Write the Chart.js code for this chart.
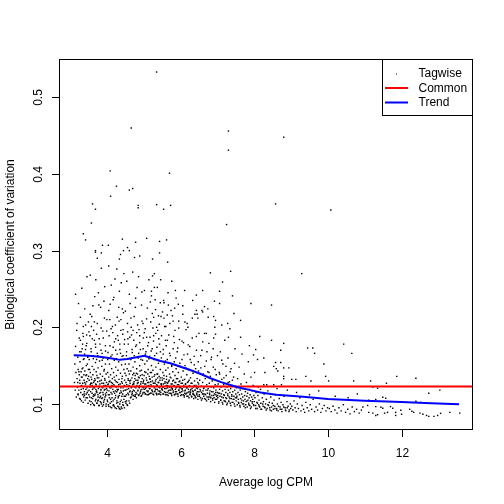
<!DOCTYPE html>
<html>
<head>
<meta charset="utf-8">
<script src="https://cdn.jsdelivr.net/npm/chart.js@4.4.1/dist/chart.umd.min.js"></script>
<style>
  html, body { margin: 0; padding: 0; background: #fff; }
  canvas { display: block; }
</style>
</head>
<body>
<canvas id="bcv" width="504" height="504"></canvas>
<script>
// axis limits and ticks (R style, 4% extension)
var xMin = 2.70, xMax = 13.94;
var yMin = 0.066, yMax = 0.55;
var xTicks = [4, 6, 8, 10, 12];
var yTicks = [0.1, 0.2, 0.3, 0.4, 0.5];

// common dispersion
var commonBCV = 0.1226;

// trend line
var trendCPM = [3.10, 3.50, 3.80, 4.10, 4.35, 4.55, 4.80, 5.02, 5.20, 5.45, 5.72, 6.00, 6.26, 6.55, 6.81, 7.10, 7.35, 7.60, 7.90, 8.17, 8.60, 9.33, 10.0, 11.0, 12.0, 12.8, 13.56];
var trendBCV = [0.1635, 0.1628, 0.1617, 0.1595, 0.1575, 0.1585, 0.1610, 0.1628, 0.1600, 0.1560, 0.1530, 0.1485, 0.1443, 0.1390, 0.1335, 0.1285, 0.1248, 0.1212, 0.1180, 0.1150, 0.1120, 0.1095, 0.1065, 0.1043, 0.1026, 0.1010, 0.0996];

// tagwise points [logCPM, BCV], low abundance
var tagLow = [
[3.12,0.128],[3.13,0.152],[3.14,0.118],[3.15,0.175],[3.16,0.141],[3.17,0.109],[3.18,0.196],[3.19,0.133],[3.20,0.122],[3.21,0.161],
[3.22,0.112],[3.22,0.145],[3.23,0.231],[3.24,0.118],[3.25,0.138],[3.25,0.186],[3.26,0.107],[3.27,0.127],[3.27,0.155],[3.28,0.213],
[3.29,0.115],[3.30,0.142],[3.30,0.168],[3.31,0.104],[3.32,0.124],[3.32,0.251],[3.33,0.135],[3.34,0.112],[3.34,0.178],[3.35,0.147],
[3.36,0.120],[3.36,0.201],[3.37,0.109],[3.38,0.131],[3.38,0.159],[3.39,0.116],[3.40,0.143],[3.40,0.224],[3.41,0.105],[3.42,0.126],
[3.42,0.171],[3.43,0.137],[3.44,0.113],[3.44,0.150],[3.45,0.190],[3.46,0.121],[3.46,0.266],[3.47,0.108],[3.48,0.133],[3.48,0.162],
[3.49,0.117],[3.50,0.145],[3.50,0.207],[3.15,0.243],[3.28,0.183],[3.35,0.192],[3.45,0.138],[3.21,0.128],[3.38,0.113],[3.33,0.146],
[3.26,0.168],[3.43,0.119],[3.19,0.205],[3.47,0.152],[3.31,0.135],[3.40,0.128],[3.24,0.142],[3.36,0.158],[3.44,0.176],[3.29,0.123],
[3.51,0.112],[3.52,0.131],[3.52,0.158],[3.53,0.104],[3.54,0.122],[3.54,0.189],[3.55,0.141],[3.56,0.099],[3.56,0.116],[3.57,0.135],
[3.57,0.172],[3.58,0.108],[3.59,0.127],[3.59,0.214],[3.60,0.149],[3.61,0.101],[3.61,0.119],[3.62,0.138],[3.62,0.163],[3.63,0.110],
[3.64,0.128],[3.64,0.196],[3.65,0.145],[3.66,0.098],[3.66,0.121],[3.67,0.133],[3.67,0.240],[3.68,0.113],[3.69,0.154],[3.69,0.178],
[3.70,0.106],[3.71,0.125],[3.71,0.142],[3.72,0.117],[3.73,0.101],[3.73,0.137],[3.74,0.166],[3.74,0.205],[3.75,0.129],[3.76,0.109],
[3.76,0.147],[3.77,0.120],[3.78,0.098],[3.78,0.134],[3.79,0.185],[3.80,0.114],[3.80,0.156],[3.81,0.126],[3.82,0.103],[3.82,0.139],
[3.83,0.226],[3.84,0.118],[3.84,0.170],[3.85,0.131],[3.86,0.107],[3.86,0.149],[3.87,0.122],[3.88,0.097],[3.88,0.136],[3.89,0.195],
[3.90,0.112],[3.90,0.160],[3.91,0.127],[3.92,0.104],[3.92,0.143],[3.93,0.118],[3.94,0.253],[3.94,0.133],[3.95,0.109],[3.96,0.152],
[3.96,0.176],[3.97,0.124],[3.98,0.100],[3.98,0.139],[3.99,0.115],[4.00,0.210],[3.55,0.268],[3.62,0.228],[3.70,0.262],[3.77,0.245],
[3.85,0.277],[3.92,0.234],[3.58,0.201],[3.66,0.183],[3.73,0.115],[3.81,0.108],[3.89,0.121],[3.97,0.111],[3.53,0.145],[3.60,0.124],
[3.68,0.131],[3.75,0.104],[3.83,0.115],[3.91,0.102],[3.99,0.128],[3.64,0.112],[3.72,0.158],[3.79,0.122],[3.87,0.166],[3.95,0.119],
[3.56,0.127],[3.84,0.102],[3.70,0.119],[3.93,0.145],
[4.01,0.118],[4.02,0.103],[4.02,0.141],[4.03,0.167],[4.04,0.126],[4.05,0.097],[4.05,0.135],[4.06,0.189],[4.07,0.112],[4.07,0.152],
[4.08,0.121],[4.09,0.101],[4.09,0.230],[4.10,0.138],[4.11,0.115],[4.11,0.162],[4.12,0.128],[4.13,0.095],[4.13,0.146],[4.14,0.108],
[4.15,0.201],[4.15,0.133],[4.16,0.119],[4.17,0.174],[4.17,0.104],[4.18,0.141],[4.19,0.125],[4.20,0.097],[4.20,0.157],[4.21,0.114],
[4.22,0.263],[4.22,0.131],[4.23,0.108],[4.24,0.148],[4.24,0.185],[4.25,0.122],[4.26,0.094],[4.26,0.137],[4.27,0.116],[4.28,0.165],
[4.28,0.213],[4.29,0.128],[4.30,0.102],[4.30,0.144],[4.31,0.119],[4.32,0.096],[4.32,0.155],[4.33,0.132],[4.34,0.247],[4.34,0.111],
[4.35,0.178],[4.36,0.126],[4.36,0.093],[4.37,0.140],[4.38,0.117],[4.38,0.196],[4.39,0.105],[4.40,0.151],[4.40,0.129],[4.41,0.094],
[4.42,0.136],[4.42,0.224],[4.43,0.113],[4.44,0.163],[4.44,0.121],[4.45,0.098],[4.46,0.145],[4.46,0.270],[4.47,0.110],[4.48,0.131],
[4.48,0.184],[4.49,0.118],[4.50,0.103],[4.50,0.152],[4.05,0.280],[4.12,0.255],[4.19,0.239],[4.27,0.276],[4.33,0.208],[4.39,0.258],
[4.45,0.219],[4.08,0.210],[4.16,0.193],[4.24,0.170],[4.31,0.183],[4.37,0.166],[4.43,0.191],[4.04,0.112],[4.10,0.106],[4.14,0.124],
[4.18,0.099],[4.23,0.117],[4.27,0.104],[4.31,0.110],[4.35,0.100],[4.39,0.115],[4.43,0.102],[4.47,0.124],[4.06,0.129],[4.20,0.135],
[4.29,0.118],[4.41,0.133],[4.49,0.140]
];

// tagwise points, mid abundance
var tagMid = [
[4.51,0.118],[4.52,0.101],[4.52,0.137],[4.53,0.163],[4.54,0.125],[4.55,0.099],[4.55,0.146],[4.56,0.205],[4.57,0.114],[4.58,0.131],
[4.58,0.178],[4.59,0.120],[4.60,0.104],[4.60,0.152],[4.61,0.139],[4.62,0.116],[4.63,0.231],[4.63,0.127],[4.64,0.108],[4.65,0.158],
[4.65,0.143],[4.66,0.121],[4.67,0.190],[4.68,0.112],[4.68,0.134],[4.69,0.167],[4.70,0.125],[4.71,0.106],[4.71,0.148],[4.72,0.118],
[4.73,0.140],[4.74,0.214],[4.74,0.129],[4.75,0.110],[4.76,0.155],[4.76,0.122],[4.77,0.137],[4.78,0.175],[4.79,0.115],[4.79,0.131],
[4.80,0.108],[4.81,0.146],[4.82,0.124],[4.82,0.252],[4.83,0.139],[4.84,0.117],[4.85,0.160],[4.85,0.128],[4.86,0.111],[4.87,0.197],
[4.88,0.134],[4.88,0.121],[4.89,0.150],[4.90,0.114],[4.91,0.137],[4.91,0.171],[4.92,0.126],[4.93,0.110],[4.94,0.144],[4.94,0.229],
[4.95,0.119],[4.96,0.133],[4.97,0.157],[4.97,0.113],[4.98,0.127],[4.99,0.186],[5.00,0.121],[4.54,0.260],[4.61,0.243],[4.70,0.272],
[4.78,0.238],[4.86,0.266],[4.95,0.246],[4.57,0.185],[4.66,0.200],[4.73,0.183],[4.81,0.193],[4.89,0.180],[4.98,0.205],[4.53,0.112],
[4.62,0.130],[4.69,0.116],[4.77,0.112],[4.84,0.131],[4.92,0.118],[4.99,0.129],[4.59,0.143],[4.72,0.127],[4.87,0.122],
[5.01,0.137],[5.02,0.115],[5.03,0.152],[5.03,0.126],[5.04,0.198],[5.05,0.113],[5.06,0.141],[5.06,0.168],[5.07,0.122],[5.08,0.131],
[5.09,0.112],[5.09,0.156],[5.10,0.225],[5.11,0.128],[5.12,0.117],[5.12,0.145],[5.13,0.180],[5.14,0.124],[5.15,0.136],[5.15,0.113],
[5.16,0.162],[5.17,0.120],[5.18,0.141],[5.19,0.207],[5.19,0.129],[5.20,0.114],[5.21,0.150],[5.22,0.123],[5.23,0.172],[5.23,0.135],
[5.24,0.116],[5.25,0.144],[5.26,0.127],[5.27,0.189],[5.27,0.112],[5.28,0.158],[5.29,0.121],[5.30,0.138],[5.31,0.117],[5.31,0.236],
[5.32,0.130],[5.33,0.148],[5.34,0.114],[5.35,0.125],[5.35,0.166],[5.36,0.139],[5.37,0.119],[5.38,0.196],[5.39,0.128],[5.39,0.113],
[5.40,0.153],[5.41,0.122],[5.42,0.136],[5.43,0.178],[5.44,0.117],[5.44,0.131],[5.45,0.145],[5.46,0.112],[5.47,0.214],[5.47,0.126],
[5.48,0.160],[5.49,0.120],[5.50,0.134],[5.02,0.248],[5.14,0.262],[5.21,0.241],[5.29,0.270],[5.37,0.252],[5.45,0.232],[5.08,0.187],
[5.25,0.199],[5.41,0.185],[5.05,0.120],[5.11,0.116],[5.17,0.132],[5.22,0.118],[5.28,0.127],[5.33,0.119],[5.38,0.134],[5.43,0.116],
[5.48,0.124],
[5.51,0.118],[5.52,0.141],[5.53,0.126],[5.53,0.165],[5.54,0.113],[5.55,0.133],[5.56,0.152],[5.57,0.120],[5.57,0.201],[5.58,0.129],
[5.59,0.115],[5.60,0.144],[5.61,0.124],[5.61,0.176],[5.62,0.136],[5.63,0.112],[5.64,0.158],[5.65,0.127],[5.65,0.121],[5.66,0.147],
[5.67,0.117],[5.68,0.190],[5.69,0.131],[5.69,0.114],[5.70,0.139],[5.71,0.123],[5.72,0.163],[5.73,0.118],[5.74,0.134],[5.74,0.222],
[5.75,0.113],[5.76,0.150],[5.77,0.126],[5.78,0.120],[5.79,0.142],[5.80,0.172],[5.80,0.115],[5.81,0.131],[5.82,0.124],[5.83,0.155],
[5.84,0.112],[5.85,0.137],[5.85,0.196],[5.86,0.119],[5.87,0.128],[5.88,0.146],[5.89,0.116],[5.90,0.122],[5.91,0.168],[5.92,0.133],
[5.93,0.113],[5.94,0.141],[5.95,0.125],[5.96,0.118],[5.97,0.184],[5.98,0.130],[5.99,0.115],[6.00,0.149],[5.55,0.232],[5.66,0.245],
[5.78,0.215],[5.88,0.238],[5.59,0.183],[5.71,0.205],[5.83,0.180],[5.95,0.208],[5.52,0.122],[5.63,0.128],[5.75,0.121],[5.86,0.113],
[5.97,0.121],
[6.01,0.121],[6.02,0.135],[6.03,0.112],[6.04,0.158],[6.05,0.127],[6.06,0.117],[6.07,0.143],[6.08,0.180],[6.09,0.122],[6.10,0.111],
[6.11,0.132],[6.12,0.150],[6.13,0.118],[6.14,0.126],[6.15,0.197],[6.16,0.114],[6.17,0.138],[6.18,0.121],[6.19,0.165],[6.20,0.110],
[6.21,0.129],[6.22,0.145],[6.23,0.116],[6.24,0.124],[6.25,0.175],[6.26,0.113],[6.27,0.134],[6.28,0.119],[6.29,0.154],[6.30,0.110],
[6.31,0.127],[6.32,0.212],[6.33,0.117],[6.34,0.140],[6.35,0.122],[6.36,0.112],[6.37,0.162],[6.38,0.130],[6.39,0.118],[6.40,0.109],
[6.41,0.146],[6.42,0.124],[6.43,0.188],[6.44,0.114],[6.45,0.133],[6.46,0.120],[6.47,0.110],[6.48,0.155],[6.49,0.126],[6.50,0.116],
[6.06,0.228],[6.18,0.205],[6.33,0.235],[6.45,0.217],[6.11,0.114],[6.23,0.131],[6.35,0.113],[6.47,0.128],[6.04,0.119],[6.27,0.115],
[6.51,0.112],[6.52,0.131],[6.53,0.119],[6.54,0.108],[6.55,0.147],[6.56,0.123],[6.57,0.115],[6.58,0.170],[6.59,0.107],[6.60,0.128],
[6.61,0.117],[6.62,0.139],[6.63,0.110],[6.64,0.121],[6.65,0.192],[6.66,0.113],[6.67,0.133],[6.68,0.106],[6.69,0.118],[6.70,0.156],
[6.71,0.125],[6.72,0.109],[6.73,0.114],[6.74,0.142],[6.75,0.120],[6.76,0.106],[6.77,0.179],[6.78,0.127],[6.79,0.112],[6.80,0.117],
[6.81,0.136],[6.82,0.108],[6.83,0.122],[6.84,0.161],[6.85,0.111],[6.86,0.130],[6.87,0.105],[6.88,0.116],[6.89,0.148],[6.90,0.121],
[6.91,0.108],[6.92,0.113],[6.93,0.200],[6.94,0.125],[6.95,0.106],[6.96,0.118],[6.97,0.138],[6.98,0.110],[6.99,0.123],[7.00,0.115],
[6.58,0.222],[6.75,0.213],[6.90,0.186],[6.62,0.113],[6.80,0.109],[6.96,0.112],
[7.01,0.108],[7.02,0.126],[7.03,0.114],[7.04,0.103],[7.05,0.141],[7.06,0.119],[7.07,0.110],[7.08,0.168],[7.09,0.105],[7.10,0.122],
[7.11,0.113],[7.12,0.132],[7.13,0.102],[7.14,0.117],[7.15,0.152],[7.16,0.108],[7.17,0.125],[7.18,0.104],[7.19,0.111],[7.20,0.183],
[7.21,0.119],[7.22,0.103],[7.23,0.115],[7.24,0.137],[7.25,0.107],[7.26,0.122],[7.27,0.101],[7.28,0.113],[7.29,0.160],[7.30,0.118],
[7.31,0.104],[7.32,0.109],[7.33,0.129],[7.34,0.115],[7.35,0.101],[7.36,0.120],[7.37,0.146],[7.38,0.107],[7.39,0.112],[7.40,0.102],
[7.41,0.124],[7.42,0.116],[7.43,0.106],[7.44,0.135],[7.45,0.110],[7.46,0.100],[7.47,0.118],[7.48,0.172],[7.49,0.108],[7.50,0.113],
[7.12,0.203],[7.34,0.198],[7.45,0.218]
];

// tagwise points, high abundance
var tagHigh = [
[7.51,0.104],[7.52,0.121],[7.53,0.110],[7.54,0.099],[7.55,0.133],[7.56,0.115],[7.57,0.106],[7.58,0.101],[7.59,0.148],[7.60,0.112],
[7.61,0.098],[7.62,0.118],[7.63,0.107],[7.64,0.126],[7.65,0.102],[7.66,0.113],[7.67,0.165],[7.68,0.100],[7.69,0.109],[7.70,0.120],
[7.71,0.104],[7.72,0.097],[7.73,0.139],[7.74,0.111],[7.75,0.106],[7.76,0.116],[7.77,0.099],[7.78,0.103],[7.79,0.128],[7.80,0.110],
[7.81,0.096],[7.82,0.114],[7.83,0.105],[7.84,0.155],[7.85,0.101],[7.86,0.108],[7.87,0.119],[7.88,0.098],[7.89,0.112],[7.90,0.104],
[7.91,0.135],[7.92,0.096],[7.93,0.109],[7.94,0.117],[7.95,0.101],[7.96,0.106],[7.97,0.124],[7.98,0.099],[7.99,0.111],[8.00,0.103],
[7.63,0.187],[7.87,0.176],
[8.02,0.108],[8.04,0.098],[8.05,0.115],[8.07,0.102],[8.08,0.094],[8.10,0.111],[8.12,0.099],[8.13,0.105],[8.15,0.096],[8.17,0.119],
[8.18,0.101],[8.20,0.093],[8.22,0.108],[8.24,0.097],[8.25,0.103],[8.27,0.113],[8.29,0.095],[8.31,0.100],[8.33,0.106],[8.35,0.094],
[8.37,0.117],[8.39,0.098],[8.41,0.102],[8.43,0.092],[8.45,0.109],[8.47,0.096],[8.49,0.101],[8.52,0.093],[8.54,0.105],[8.56,0.097],
[8.58,0.112],[8.61,0.094],[8.63,0.100],[8.65,0.091],[8.68,0.107],[8.70,0.096],[8.73,0.102],[8.75,0.093],[8.78,0.099],[8.81,0.110],
[8.84,0.095],[8.86,0.091],[8.89,0.103],[8.92,0.097],[8.95,0.092],[8.98,0.100],[8.11,0.122],[8.34,0.125],[8.62,0.120],[8.90,0.118],
[8.15,0.188],[8.47,0.183],[8.80,0.179],[8.04,0.171],[8.72,0.170],[7.98,0.164],[8.09,0.158],[8.26,0.160],[8.58,0.154],[8.72,0.154],
[8.53,0.149],[8.60,0.146],[8.64,0.143],[8.80,0.147],[8.80,0.136],[8.80,0.133],[8.94,0.147],[8.01,0.141],[8.29,0.141],[8.26,0.125],
[8.53,0.125],[8.74,0.125],
[9.02,0.097],[9.05,0.092],[9.08,0.104],[9.11,0.095],[9.14,0.090],[9.17,0.100],[9.20,0.094],[9.24,0.108],[9.27,0.091],[9.30,0.098],
[9.34,0.093],[9.37,0.089],[9.40,0.102],[9.44,0.095],[9.48,0.091],[9.52,0.099],[9.56,0.093],[9.60,0.106],[9.64,0.090],[9.68,0.096],
[9.72,0.092],[9.77,0.100],[9.81,0.089],[9.85,0.094],[9.90,0.098],[9.95,0.091],[9.99,0.095],[9.15,0.115],[9.50,0.112],[9.75,0.117],
[9.45,0.173],[9.59,0.173],[9.64,0.166],[9.89,0.152],[9.02,0.132],[9.13,0.132],[9.40,0.136],[9.54,0.130],[9.94,0.136],
[10.04,0.094],[10.09,0.090],[10.14,0.097],[10.19,0.092],[10.25,0.088],[10.30,0.095],[10.36,0.091],[10.42,0.099],[10.48,0.089],[10.54,0.093],
[10.60,0.087],[10.66,0.096],[10.72,0.090],[10.78,0.093],[10.85,0.088],[10.91,0.092],[10.20,0.110],[10.55,0.108],[10.80,0.113],
[10.02,0.130],[10.43,0.178],[10.65,0.166],[10.70,0.130],[10.95,0.096],
[11.08,0.098],[11.11,0.089],[11.11,0.105],[11.16,0.130],[11.22,0.088],[11.22,0.122],[11.30,0.0965],[11.30,0.085],[11.30,0.106],[11.35,0.086],
[11.35,0.1205],[11.44,0.0957],[11.49,0.0944],[11.49,0.1087],[11.54,0.088],[11.57,0.1074],[11.59,0.127],[11.62,0.089],[11.70,0.0965],[11.76,0.0944],
[11.84,0.089],[11.84,0.085],[11.87,0.136],[11.98,0.0918],
[12.00,0.0866],[12.22,0.093],[12.28,0.0905],[12.33,0.089],[12.39,0.1335],[12.39,0.1035],[12.50,0.088],[12.52,0.102],[12.58,0.0866],[12.68,0.085],
[12.74,0.0838],[12.74,0.114],[12.88,0.0838],[12.98,0.085],[13.04,0.118],[13.06,0.0877],[13.31,0.089],[13.58,0.088]
];

// scattered high-BCV tags
var tagUpper = [
[5.35,0.533],[4.66,0.460],[7.30,0.456],[7.30,0.431],[4.09,0.404],[5.70,0.401],[4.26,0.384],[4.61,0.379],[4.70,0.381],[4.10,0.371],
[3.61,0.361],[3.69,0.354],[4.85,0.359],[4.85,0.356],[5.35,0.360],[5.54,0.354],[5.73,0.359],[7.25,0.334],[3.58,0.336],[3.36,0.322],
[3.42,0.314],[4.42,0.315],[5.08,0.316],[4.78,0.311],[5.43,0.312],[5.62,0.314],[3.88,0.307],[4.04,0.307],[3.69,0.300],[3.69,0.298],
[3.85,0.297],[4.45,0.300],[4.56,0.304],[4.61,0.300],[4.37,0.295],[5.43,0.297],[3.74,0.290],[4.34,0.289],[4.75,0.291],[4.89,0.293],
[5.24,0.289],[8.80,0.448],[8.58,0.361],[10.08,0.353],[9.29,0.270],[7.91,0.231],[8.47,0.229],
[5.65,0.285],[6.81,0.271],[7.36,0.273],[5.24,0.267],[5.46,0.262],[5.76,0.260],[7.14,0.259],[5.29,0.252],[5.21,0.247],[5.86,0.248],
[6.11,0.248],[6.60,0.248],[7.06,0.247],[6.43,0.242],[7.41,0.241],[5.54,0.235],[6.92,0.234],[7.06,0.231],[5.18,0.233],[5.67,0.229],
[5.94,0.230],[6.65,0.227],[6.74,0.224],[5.84,0.225],[5.32,0.223],[6.43,0.222],[5.51,0.220],[6.60,0.220],[6.06,0.217],[6.39,0.217],
[5.27,0.213],[5.40,0.215],[5.55,0.212],[5.64,0.216],[6.90,0.214],[6.47,0.212],[6.95,0.209],[7.63,0.209],[5.80,0.208],[6.12,0.207],
[7.28,0.205],[5.35,0.200],[5.60,0.201],[5.95,0.199],[6.20,0.200],[6.50,0.192],[6.70,0.192],[6.95,0.191],[7.30,0.187]
];

// extra tags in the dense lower band
var tagDense = [
[3.217,0.113],[3.263,0.131],[3.281,0.106],[3.302,0.119],[3.344,0.127],[3.358,0.102],[3.376,0.138],[3.391,0.111],[3.413,0.123],[3.437,0.108],
[3.452,0.129],[3.468,0.115],[3.489,0.101],[3.503,0.136],[3.518,0.118],[3.533,0.109],[3.547,0.125],[3.571,0.103],[3.586,0.132],[3.598,0.114],
[3.614,0.107],[3.627,0.121],[3.642,0.099],[3.655,0.130],[3.671,0.111],[3.688,0.104],[3.696,0.126],[3.713,0.116],[3.728,0.101],[3.741,0.134],
[3.757,0.112],[3.769,0.105],[3.786,0.123],[3.793,0.098],[3.808,0.130],[3.826,0.110],[3.838,0.119],[3.851,0.100],[3.867,0.127],[3.879,0.108],
[3.893,0.115],[3.907,0.099],[3.921,0.124],[3.936,0.106],[3.948,0.131],[3.962,0.113],[3.977,0.097],[3.989,0.120],
[4.012,0.105],[4.027,0.125],[4.041,0.099],[4.055,0.117],[4.068,0.108],[4.083,0.130],[4.097,0.096],[4.112,0.121],[4.126,0.103],[4.139,0.113],
[4.153,0.127],[4.168,0.098],[4.181,0.116],[4.196,0.106],[4.209,0.123],[4.224,0.095],[4.237,0.111],[4.252,0.129],[4.266,0.101],[4.279,0.119],
[4.293,0.097],[4.307,0.108],[4.321,0.125],[4.336,0.094],[4.349,0.114],[4.364,0.103],[4.378,0.121],[4.391,0.096],[4.406,0.110],[4.419,0.127],
[4.433,0.099],[4.447,0.117],[4.462,0.106],[4.476,0.095],[4.489,0.123],[4.503,0.110],[4.518,0.128],[4.533,0.104],[4.547,0.119],[4.561,0.098],
[4.576,0.133],[4.589,0.112],[4.603,0.124],[4.617,0.101],[4.632,0.117],
[4.646,0.131],[4.659,0.109],[4.674,0.122],[4.688,0.114],[4.703,0.138],[4.716,0.111],[4.731,0.126],[4.745,0.117],[4.759,0.133],[4.772,0.110],
[4.787,0.121],[4.801,0.140],[4.815,0.113],[4.829,0.127],[4.844,0.118],[4.857,0.135],[4.872,0.112],[4.886,0.124],[4.899,0.143],[4.914,0.116],
[4.928,0.129],[4.941,0.111],[4.956,0.138],[4.970,0.122],[4.984,0.115],[4.998,0.131],[5.013,0.119],[5.027,0.142],[5.041,0.113],[5.056,0.126],
[5.069,0.134],[5.084,0.117],[5.097,0.123],[5.112,0.139],[5.126,0.112],[5.139,0.128],[5.154,0.120],[5.168,0.133],[5.181,0.114],[5.196,0.125],
[5.211,0.141],[5.224,0.118],[5.238,0.130],[5.252,0.113],[5.266,0.123],[5.281,0.136],[5.294,0.116],[5.309,0.127],[5.323,0.119],[5.337,0.132],
[5.351,0.112],[5.366,0.124],[5.379,0.139],[5.393,0.117],[5.408,0.128],[5.421,0.113],[5.436,0.121],[5.449,0.134],[5.464,0.115],[5.478,0.126],
[5.492,0.119],
[5.506,0.131],[5.521,0.113],[5.535,0.122],[5.549,0.137],[5.563,0.116],[5.577,0.127],[5.592,0.112],[5.606,0.120],[5.619,0.132],[5.634,0.115],
[5.648,0.124],[5.663,0.111],[5.677,0.129],[5.691,0.118],[5.704,0.122],[5.719,0.135],[5.733,0.114],[5.747,0.126],[5.762,0.111],[5.776,0.119],
[5.789,0.130],[5.804,0.117],[5.818,0.123],[5.833,0.112],[5.847,0.128],[5.861,0.116],[5.875,0.121],[5.889,0.133],[5.904,0.113],[5.917,0.125],
[5.932,0.110],[5.946,0.118],[5.961,0.129],[5.974,0.115],[5.988,0.122],[6.003,0.111],[6.017,0.127],[6.031,0.116],[6.046,0.120],[6.059,0.131],
[6.074,0.112],[6.088,0.124],[6.102,0.109],[6.116,0.117],[6.131,0.126],[6.144,0.113],[6.159,0.121],[6.173,0.110],[6.187,0.128],[6.201,0.115],
[6.216,0.119],[6.229,0.108],[6.244,0.123],[6.258,0.112],[6.272,0.117],[6.286,0.127],[6.301,0.109],[6.314,0.120],[6.329,0.113],[6.343,0.116],
[6.357,0.107],[6.371,0.124],[6.386,0.111],[6.399,0.118],[6.414,0.108],[6.428,0.121],[6.443,0.112],[6.457,0.116],[6.471,0.106],[6.485,0.122],
[6.514,0.110],[6.541,0.117],[6.569,0.105],[6.596,0.113],[6.624,0.120],[6.651,0.107],[6.679,0.112],[6.706,0.104],[6.734,0.118],[6.761,0.109],
[6.789,0.114],[6.816,0.103],[6.844,0.116],[6.871,0.107],[6.899,0.111],[6.926,0.102],[6.954,0.115],[6.981,0.106],[7.009,0.111],[7.036,0.101],
[7.064,0.114],[7.091,0.105],[7.119,0.109],[7.146,0.100],[7.174,0.112],[7.201,0.104],[7.229,0.108],[7.256,0.099],[7.284,0.111],[7.311,0.103],
[7.339,0.107],[7.366,0.098],[7.394,0.110],[7.421,0.102],[7.449,0.106],[7.476,0.097],
[7.523,0.108],[7.571,0.102],[7.618,0.096],[7.664,0.105],[7.712,0.100],[7.758,0.095],[7.806,0.104],[7.853,0.099],[7.899,0.094],[7.947,0.103],
[7.993,0.098],[8.041,0.094],[8.088,0.101],[8.136,0.097],[8.183,0.093],[8.231,0.100],[8.278,0.096],[8.326,0.092],[8.373,0.099],[8.421,0.095],
[8.468,0.091],[8.516,0.098],[8.563,0.094],[8.611,0.092],[8.658,0.097],[8.706,0.093],[8.753,0.090],[8.801,0.096],[8.848,0.092],[8.896,0.095],
[8.943,0.090],[8.991,0.094]
];

// extra tags in the medium-density upper cloud
var tagSpread = [
[3.331,0.172],[3.362,0.188],[3.395,0.165],[3.423,0.203],[3.454,0.179],[3.481,0.161],[3.512,0.194],[3.546,0.217],[3.573,0.168],[3.604,0.185],
[3.632,0.159],[3.661,0.207],[3.694,0.174],[3.722,0.191],[3.751,0.163],[3.783,0.229],[3.812,0.178],[3.844,0.199],[3.873,0.157],[3.902,0.186],
[3.934,0.212],[3.963,0.169],[3.994,0.195],[4.023,0.158],[4.051,0.222],[4.084,0.176],[4.113,0.198],[4.142,0.164],[4.171,0.236],[4.203,0.181],
[4.232,0.203],[4.262,0.159],[4.291,0.189],[4.323,0.226],[4.352,0.171],[4.381,0.210],[4.412,0.162],[4.441,0.197],[4.473,0.178],[4.502,0.221],
[4.534,0.168],[4.563,0.194],[4.594,0.159],[4.622,0.187],[4.651,0.212],[4.683,0.171],[4.712,0.196],[4.744,0.163],[4.773,0.226],[4.802,0.177],
[4.834,0.203],[4.863,0.166],[4.892,0.189],[4.924,0.158],[4.953,0.208],[4.984,0.172],[5.016,0.193],[5.047,0.165],[5.078,0.211],[5.109,0.176],
[5.141,0.159],[5.172,0.187],[5.203,0.169],[5.234,0.218],[5.266,0.182],[5.297,0.163],[5.328,0.192],[5.359,0.174],[5.391,0.157],[5.422,0.204],
[5.453,0.168],[5.484,0.189],
[5.531,0.171],[5.589,0.156],[5.643,0.183],[5.702,0.166],[5.758,0.149],[5.813,0.188],[5.869,0.160],[5.924,0.173],[5.981,0.153],[6.038,0.182],
[6.092,0.164],[6.148,0.147],[6.207,0.177],[6.262,0.158],[6.318,0.186],[6.374,0.151],[6.431,0.170],[6.488,0.143],[6.545,0.163],[6.602,0.181],
[6.658,0.149],[6.716,0.168],[6.772,0.141],[6.829,0.158],[6.886,0.172],[6.941,0.145],[7.003,0.163],[7.061,0.139],[7.118,0.157],[7.176,0.134],
[7.233,0.149],[7.291,0.128],[7.349,0.142],[7.407,0.131],[7.466,0.153]
];

var tagwise = tagLow.concat(tagMid, tagHigh, tagUpper, tagDense, tagSpread);

var FONT = '"Liberation Sans", Arial, Helvetica, sans-serif';

// R-like frame, axes, labels and legend
var rFrame = {
    id: 'rFrame',
    afterDraw: function(chart) {
        var ctx = chart.ctx;
        var a = chart.chartArea;
        var sx = chart.scales.x, sy = chart.scales.y;
        ctx.save();
        ctx.strokeStyle = '#000';
        ctx.lineWidth = 1;
        ctx.strokeRect(a.left + 0.5, a.top + 0.5, a.right - a.left - 1, a.bottom - a.top - 1);

        ctx.fillStyle = '#000';
        ctx.font = '12px ' + FONT;
        // x ticks
        ctx.textAlign = 'center';
        ctx.textBaseline = 'alphabetic';
        xTicks.forEach(function(v) {
            var px = Math.round(sx.getPixelForValue(v)) + 0.5;
            ctx.beginPath();
            ctx.moveTo(px, a.bottom);
            ctx.lineTo(px, a.bottom + 7);
            ctx.stroke();
            ctx.fillText(String(v), px, 457);
        });
        // y ticks, rotated labels
        yTicks.forEach(function(v) {
            var py = Math.round(sy.getPixelForValue(v)) + 0.5;
            ctx.beginPath();
            ctx.moveTo(a.left, py);
            ctx.lineTo(a.left - 7, py);
            ctx.stroke();
            ctx.save();
            ctx.translate(42, py);
            ctx.rotate(-Math.PI / 2);
            ctx.fillText(v.toFixed(1), 0, 0);
            ctx.restore();
        });
        // axis titles
        ctx.fillText('Average log CPM', (a.left + a.right) / 2, 486);
        ctx.save();
        ctx.translate(13.5, (a.top + a.bottom) / 2);
        ctx.rotate(-Math.PI / 2);
        ctx.fillText('Biological coefficient of variation', 0, 0);
        ctx.restore();

        // legend box
        var lx = 382, ly = a.top, lw = a.right - 382, lh = 57;
        ctx.fillStyle = '#fff';
        ctx.fillRect(lx, ly, lw, lh);
        ctx.strokeStyle = '#000';
        ctx.strokeRect(lx + 0.5, ly + 0.5, lw - 1, lh - 1);
        ctx.fillStyle = '#000';
        ctx.fillRect(396, 73.5, 1, 1);
        ctx.lineWidth = 2;
        ctx.strokeStyle = '#ff0000';
        ctx.beginPath(); ctx.moveTo(385, 88); ctx.lineTo(408, 88); ctx.stroke();
        ctx.strokeStyle = '#0000ff';
        ctx.beginPath(); ctx.moveTo(385, 102.5); ctx.lineTo(408, 102.5); ctx.stroke();
        ctx.textAlign = 'left';
        ctx.textBaseline = 'middle';
        ctx.fillText('Tagwise', 418.5, 74);
        ctx.fillText('Common', 418.5, 88.3);
        ctx.fillText('Trend', 418.5, 102.6);
        ctx.restore();
    }
};

var trendPts = trendCPM.map(function(x, i) { return { x: x, y: trendBCV[i] }; });
var commonPts = [{ x: xMin, y: commonBCV }, { x: xMax, y: commonBCV }];
var tagPts = tagwise.map(function(p) { return { x: p[0], y: p[1] }; });

var chr = document.getElementById('bcv').getContext('2d');
var bcvChart = new Chart(chr, {
    type: 'scatter',
    data: {
        datasets: [{
            label: 'Trend',
            data: trendPts,
            showLine: true,
            borderColor: '#0000ff',
            borderWidth: 2,
            pointRadius: 0,
            tension: 0
        }, {
            label: 'Common',
            data: commonPts,
            showLine: true,
            borderColor: '#ff0000',
            borderWidth: 2,
            pointRadius: 0
        }, {
            label: 'Tagwise',
            data: tagPts,
            pointStyle: 'rect',
            pointRadius: 1.0,
            pointBorderWidth: 0,
            backgroundColor: '#000',
            borderColor: '#000'
        }]
    },
    options: {
        responsive: false,
        animation: false,
        devicePixelRatio: 1,
        layout: { padding: { left: 59, right: 31, top: 59, bottom: 74 } },
        plugins: { legend: { display: false }, tooltip: { enabled: false } },
        scales: {
            x: { type: 'linear', min: xMin, max: xMax, display: false },
            y: { type: 'linear', min: yMin, max: yMax, display: false }
        }
    },
    plugins: [rFrame]
});
</script>
</body>
</html>
